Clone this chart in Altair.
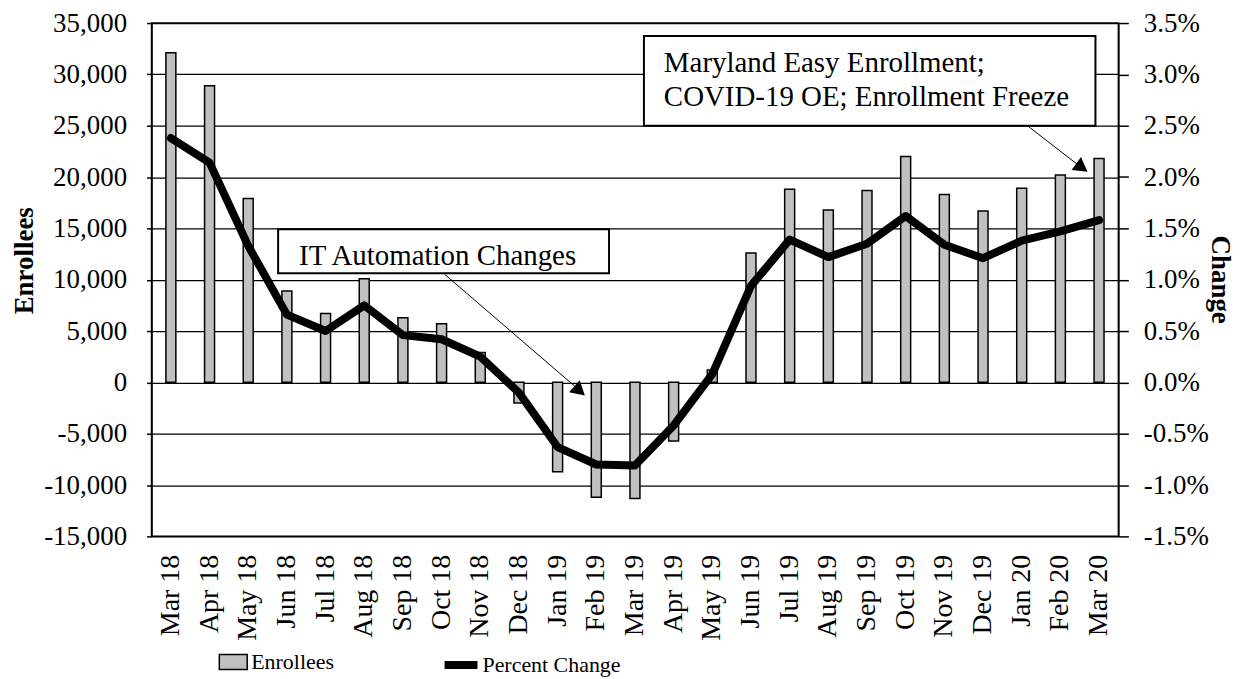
import altair as alt
import pandas as pd

months = ["Mar 18", "Apr 18", "May 18", "Jun 18", "Jul 18", "Aug 18", "Sep 18", "Oct 18",
          "Nov 18", "Dec 18", "Jan 19", "Feb 19", "Mar 19", "Apr 19", "May 19", "Jun 19",
          "Jul 19", "Aug 19", "Sep 19", "Oct 19", "Nov 19", "Dec 19", "Jan 20", "Feb 20", "Mar 20"]
enrollees = [32100, 28900, 17900, 8900, 6700, 10100, 6300, 5700, 2900, -2000, -8700, -11200,
             -11300, -5700, 1200, 12600, 18800, 16800, 18700, 22000, 18300, 16700, 18900, 20200, 21800]
pct_change = [0.0238, 0.0214, 0.0133, 0.0066, 0.0050, 0.0075, 0.0046, 0.0042, 0.0025, -0.0010,
              -0.0063, -0.0080, -0.0081, -0.0042, 0.0008, 0.0094, 0.0139, 0.0122, 0.0135, 0.0162,
              0.0134, 0.0121, 0.0138, 0.0147, 0.0158]
left_ticks = [-15000, -10000, -5000, 0, 5000, 10000, 15000, 20000, 25000, 30000, 35000]
right_ticks = [-0.015, -0.01, -0.005, 0.0, 0.005, 0.01, 0.015, 0.02, 0.025, 0.03, 0.035]
note1 = "IT Automation Changes"
note2_lines = ["Maryland Easy Enrollment;", "COVID-19 OE; Enrollment Freeze"]

df = pd.DataFrame({"Month": months, "Enrollees": enrollees, "Pct": pct_change,
                   "s1": "Enrollees", "s2": "Percent Change"})
one = pd.DataFrame({"a": [0]})

FONT = "Liberation Serif"
TICK_FS = 27

x = alt.X("Month:N", sort=months,
          scale=alt.Scale(paddingInner=0, paddingOuter=0),
          axis=alt.Axis(title=None, labelAngle=-90, labelAlign="right", labelBaseline="middle",
                        labelFont=FONT, labelFontSize=28, labelColor="black",
                        ticks=False, tickSize=0, labelPadding=18, domain=False, grid=False))

bars = alt.Chart(df).mark_bar(size=10, stroke="black", strokeWidth=1.5).encode(
    x=x,
    y=alt.Y("Enrollees:Q",
            scale=alt.Scale(domain=[-15000, 35000], nice=False, zero=False),
            axis=alt.Axis(values=left_ticks,
                          labelExpr="replace(format(datum.value, ',d'), '\u2212', '-')",
                          title="Enrollees",
                          labelFont=FONT, labelFontSize=TICK_FS, labelColor="black",
                          tickSize=5, tickColor="black", tickWidth=1.5, labelPadding=20,
                          domainColor="black", domainWidth=1.5,
                          grid=True, gridColor="black", gridWidth=1.3,
                          titleFont=FONT, titleFontSize=27, titleFontWeight="bold", titleColor="black",
                          titleAngle=-90, titleX=-127, titleY=238,
                          titleAlign="center", titleBaseline="middle")),
    fill=alt.Fill("s1:N", scale=alt.Scale(domain=["Enrollees"], range=["#c0c0c0"]),
                  legend=alt.Legend(orient="none", legendX=67, legendY=626, title=None,
                                    symbolType="M-1,-0.536H1V0.536H-1Z", symbolSize=784,
                                    symbolStrokeColor="black", symbolStrokeWidth=1.5,
                                    labelFont=FONT, labelFontSize=22, labelColor="black",
                                    labelOffset=3, padding=0)),
)

line = alt.Chart(df).mark_line(strokeWidth=8, strokeJoin="round", strokeCap="round").encode(
    x=x,
    y=alt.Y("Pct:Q",
            scale=alt.Scale(domain=[-0.015, 0.035], nice=False, zero=False),
            axis=alt.Axis(orient="right", values=right_ticks,
                          labelExpr="replace(format(datum.value, '.1%'), '\u2212', '-')",
                          title="Change",
                          labelFont=FONT, labelFontSize=TICK_FS, labelColor="black",
                          tickSize=10, tickColor="black", tickWidth=1.5, labelPadding=15,
                          domainColor="black", domainWidth=1.5, grid=False,
                          titleFont=FONT, titleFontSize=27, titleFontWeight="bold", titleColor="black",
                          titleAngle=90, titleX=101, titleY=257,
                          titleAlign="center", titleBaseline="middle")),
    stroke=alt.Stroke("s2:N", scale=alt.Scale(domain=["Percent Change"], range=["black"]),
                      legend=alt.Legend(orient="none", legendX=290, legendY=623.5, title=None,
                                        symbolType="stroke", symbolSize=1089, symbolStrokeWidth=8,
                                        labelFont=FONT, labelFontSize=22, labelColor="black",
                                        labelOffset=1, padding=0)),
)

# Annotation 1: IT Automation Changes
box1 = alt.Chart(one).mark_rect(fill="white", stroke="black", strokeWidth=2).encode(
    x=alt.value(127), x2=alt.value(459), y=alt.value(207), y2=alt.value(251))
text1 = alt.Chart(one).mark_text(align="left", baseline="alphabetic", font=FONT, fontSize=29,
                                 color="black", text=note1).encode(
    x=alt.value(148), y=alt.value(243))
rule1 = alt.Chart(one).mark_rule(color="black", strokeWidth=1).encode(
    x=alt.value(294), y=alt.value(252), x2=alt.value(430), y2=alt.value(369))
head1 = alt.Chart(one).mark_point(shape="triangle-up", filled=True, size=260, angle=131,
                                  color="black", opacity=1).encode(
    x=alt.value(429.5), y=alt.value(369))

# Annotation 2: Maryland Easy Enrollment ...
box2 = alt.Chart(one).mark_rect(fill="white", stroke="black", strokeWidth=2).encode(
    x=alt.value(494), x2=alt.value(947), y=alt.value(13), y2=alt.value(103))
text2a = alt.Chart(one).mark_text(align="left", baseline="alphabetic", font=FONT, fontSize=29,
                                  color="black", text=note2_lines[0]).encode(
    x=alt.value(514), y=alt.value(49))
text2b = alt.Chart(one).mark_text(align="left", baseline="alphabetic", font=FONT, fontSize=29,
                                  color="black", text=note2_lines[1]).encode(
    x=alt.value(514), y=alt.value(83))
rule2 = alt.Chart(one).mark_rule(color="black", strokeWidth=1).encode(
    x=alt.value(880), y=alt.value(104), x2=alt.value(933), y2=alt.value(145))
head2 = alt.Chart(one).mark_point(shape="triangle-up", filled=True, size=260, angle=126,
                                  color="black", opacity=1).encode(
    x=alt.value(933.4), y=alt.value(145))

chart = alt.layer(bars, line, box1, text1, rule1, head1, box2, text2a, text2b, rule2, head2).resolve_scale(
    y="independent", fill="independent", stroke="independent"
).properties(
    width=970, height=515,
    autosize=alt.AutoSizeParams(type="none"),
    padding={"left": 144, "top": 14, "right": 118, "bottom": 140},
    background="white",
).configure_view(stroke="black", strokeWidth=1.5)

chart.save("out.html", embed_options={"renderer": "svg", "actions": False})
